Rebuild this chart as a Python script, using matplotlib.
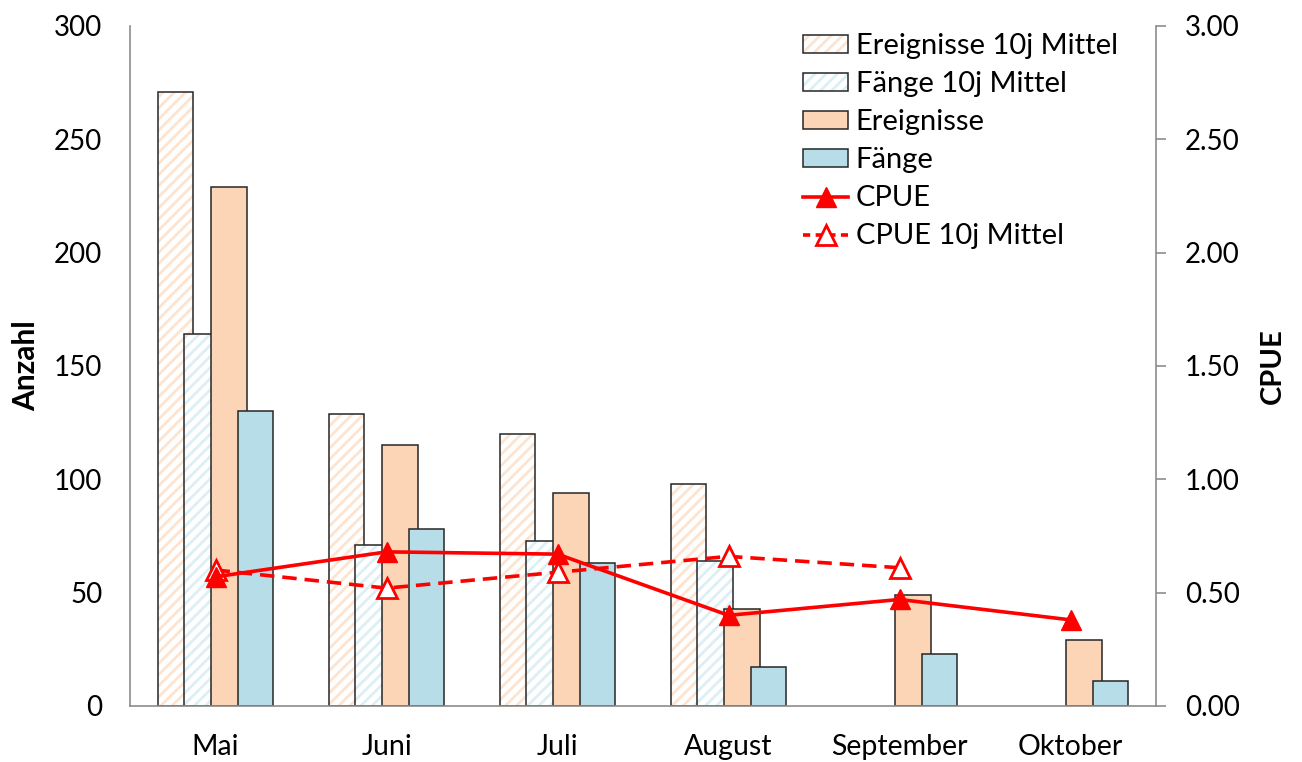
import numpy as np
import matplotlib
matplotlib.use('Agg')
import matplotlib.pyplot as plt
from matplotlib.patches import Patch
from matplotlib.lines import Line2D

# data
months = ['Mai', 'Juni', 'Juli', 'August', 'September', 'Oktober']
ereignisse_10j = [271, 129, 120, 98, np.nan, np.nan]
faenge_10j = [164, 71, 73, 64, np.nan, np.nan]
ereignisse = [229, 115, 94, 43, 49, 29]
faenge = [130, 78, 63, 17, 23, 11]
cpue = [0.57, 0.68, 0.67, 0.40, 0.47, 0.38]
cpue_10j = [0.60, 0.52, 0.59, 0.66, 0.61, np.nan]

plt.rcParams['font.family'] = ['Lato', 'DejaVu Sans']
plt.rcParams['hatch.linewidth'] = 2.0

peach = '#FBD5B5'
blue = '#B7DDE8'
peach_hatch = '#FDE4D0'
blue_hatch = '#DCEFF4'
red = '#FF0000'
grey = '#8C8C8C'
edge = '#262626'

fig = plt.figure(figsize=(13.02, 7.62), dpi=100)
ax = fig.add_axes([130 / 1302, 1 - 706 / 762, 1026 / 1302, 680 / 762])
ax2 = ax.twinx()

x = np.arange(len(months))
w = 0.21
step = 0.156


def hatched_bars(vals, offset, hcol):
    vals = np.array(vals, dtype=float)
    ok = ~np.isnan(vals)
    ax.bar(x[ok] + offset, vals[ok], w, color='white', edgecolor=hcol,
           hatch='///', linewidth=0)
    ax.bar(x[ok] + offset, vals[ok], w, fill=False, edgecolor=edge,
           linewidth=1.1)


# draw order matters: each bar overlaps the previous one
hatched_bars(ereignisse_10j, -1.5 * step, peach_hatch)
hatched_bars(faenge_10j, -0.5 * step, blue_hatch)
ax.bar(x + 0.5 * step, ereignisse, w, color=peach, edgecolor=edge, linewidth=1.1)
ax.bar(x + 1.5 * step, faenge, w, color=blue, edgecolor=edge, linewidth=1.1)

ax2.plot(x, cpue, '-', color=red, lw=2.6, marker='^', ms=15,
         mfc=red, mec=red, zorder=5)
ax2.plot(x, cpue_10j, '--', color=red, lw=2.6, marker='^', ms=15,
         mfc='white', mec=red, mew=2, dashes=(4, 2.2), zorder=4)

ax.set_xlim(-0.5, len(months) - 0.5)
ax.set_ylim(0, 300)
ax.set_yticks(range(0, 301, 50))
ax2.set_ylim(0, 3)
ax2.set_yticks(np.arange(0, 3.01, 0.5))
ax2.set_yticklabels([f'{v:.2f}' for v in np.arange(0, 3.01, 0.5)])
ax.set_xticks(x)
ax.set_xticklabels(months)

for a in (ax, ax2):
    for s in a.spines.values():
        s.set_visible(False)
ax.spines['left'].set_visible(True)
ax.spines['bottom'].set_visible(True)
ax2.spines['right'].set_visible(True)
for s in (ax.spines['left'], ax.spines['bottom'], ax2.spines['right']):
    s.set_color(grey)
    s.set_linewidth(1.2)

ax.tick_params(axis='y', length=0, labelsize=20, pad=20)
ax.tick_params(axis='x', length=0, labelsize=20.5, pad=20)
ax2.tick_params(axis='y', length=7, width=1.2, color=grey, labelsize=20, pad=14)

ax.set_ylabel('Anzahl', fontsize=21.5, fontweight='bold', labelpad=10)
ax2.set_ylabel('CPUE', fontsize=21, fontweight='bold', labelpad=14)

handles = [
    (Patch(facecolor='white', edgecolor=peach_hatch, hatch='///', linewidth=0),
     Patch(fill=False, edgecolor=edge, linewidth=1.1)),
    (Patch(facecolor='white', edgecolor=blue_hatch, hatch='///', linewidth=0),
     Patch(fill=False, edgecolor=edge, linewidth=1.1)),
    Patch(facecolor=peach, edgecolor=edge, linewidth=1.1),
    Patch(facecolor=blue, edgecolor=edge, linewidth=1.1),
    Line2D([], [], color=red, lw=2.6, marker='^', ms=15, mfc=red, mec=red),
    Line2D([], [], color=red, lw=2.6, ls='--', dashes=(2, 1.5), marker='^', ms=15,
           mfc='white', mec=red, mew=2),
]
labels = ['Ereignisse 10j Mittel', 'Fänge 10j Mittel', 'Ereignisse', 'Fänge',
          'CPUE', 'CPUE 10j Mittel']
ax2.legend(handles, labels, loc='upper left', bbox_to_anchor=(0.656, 0.989),
           frameon=False, fontsize=21, handlelength=1.55, handleheight=0.55,
           handletextpad=0.25, labelspacing=0.41, borderpad=0, borderaxespad=0)

fig.savefig('out.png', dpi=100)
